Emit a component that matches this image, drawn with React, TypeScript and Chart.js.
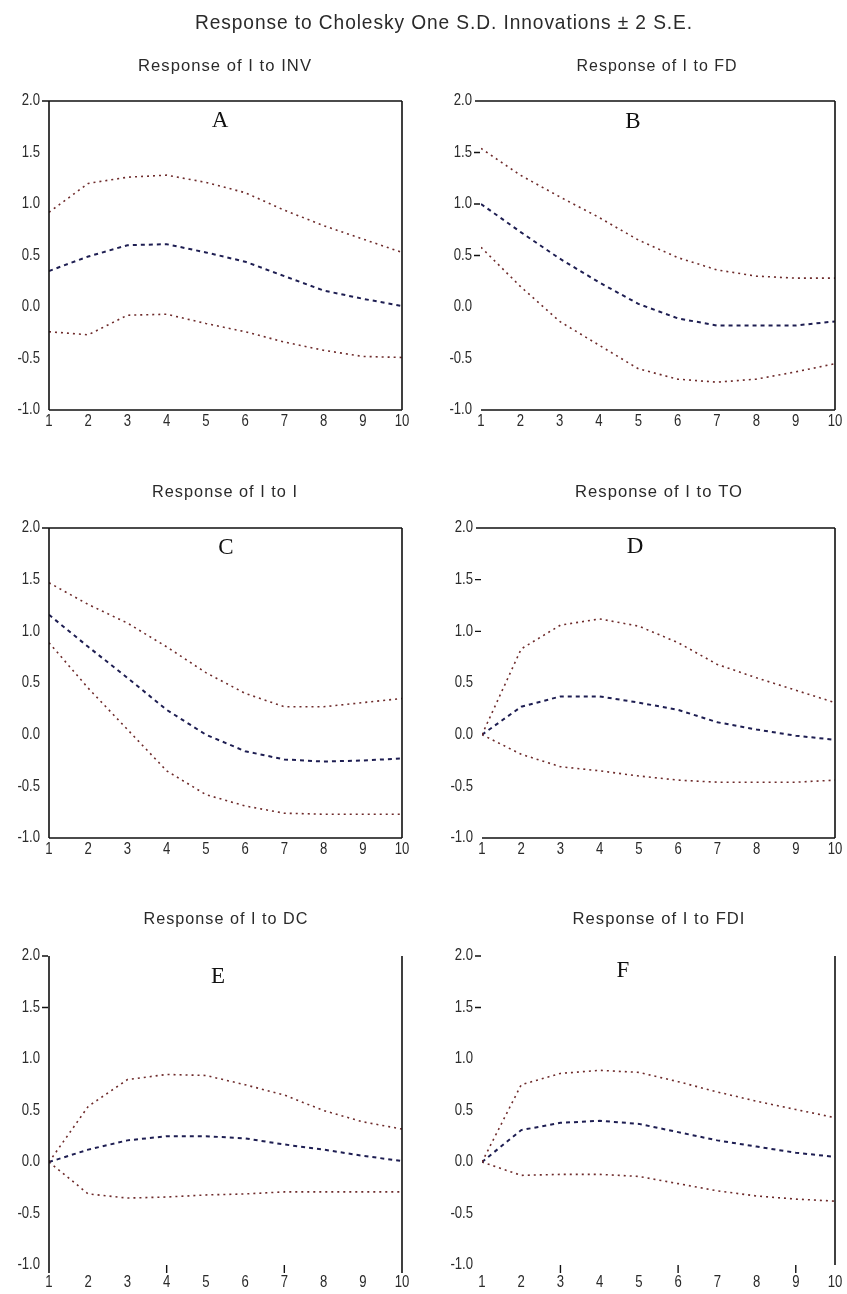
import React, { useEffect, useRef } from "react";
import { Chart, registerables } from "chart.js";

Chart.register(...registerables);

const PERIODS = [1, 2, 3, 4, 5, 6, 7, 8, 9, 10];
const Y_TICKS = [-1.0, -0.5, 0.0, 0.5, 1.0, 1.5, 2.0];
const MAIN_TITLE = "Response to Cholesky One S.D. Innovations \u00B1 2 S.E.";
const PANEL_TITLES = [
  "Response of I to INV",
  "Response of I to FD",
  "Response of I to I",
  "Response of I to TO",
  "Response of I to DC",
  "Response of I to FDI",
];
const PANEL_LETTERS = ["A", "B", "C", "D", "E", "F"];

const A_UPPER = [0.92, 1.2, 1.26, 1.28, 1.21, 1.11, 0.94, 0.79, 0.66, 0.53];
const A_RESP = [0.35, 0.49, 0.6, 0.61, 0.53, 0.44, 0.3, 0.16, 0.08, 0.01];
const A_LOWER = [-0.24, -0.27, -0.08, -0.07, -0.16, -0.24, -0.34, -0.42, -0.48, -0.49];

const B_UPPER = [1.54, 1.28, 1.07, 0.87, 0.65, 0.48, 0.36, 0.3, 0.28, 0.28];
const B_RESP = [1.0, 0.73, 0.47, 0.24, 0.03, -0.11, -0.18, -0.18, -0.18, -0.14];
const B_LOWER = [0.58, 0.2, -0.14, -0.37, -0.6, -0.7, -0.73, -0.7, -0.63, -0.55];

const C_UPPER = [1.47, 1.26, 1.08, 0.85, 0.6, 0.4, 0.27, 0.27, 0.31, 0.35];
const C_RESP = [1.16, 0.85, 0.55, 0.24, 0.0, -0.16, -0.24, -0.26, -0.25, -0.23];
const C_LOWER = [0.89, 0.45, 0.05, -0.35, -0.58, -0.69, -0.76, -0.77, -0.77, -0.77];

const D_UPPER = [0.0, 0.83, 1.06, 1.12, 1.05, 0.89, 0.68, 0.55, 0.43, 0.31];
const D_RESP = [0.0, 0.27, 0.37, 0.37, 0.31, 0.24, 0.12, 0.05, -0.01, -0.05];
const D_LOWER = [0.0, -0.19, -0.31, -0.35, -0.4, -0.44, -0.46, -0.46, -0.46, -0.44];

const E_UPPER = [0.0, 0.54, 0.8, 0.85, 0.84, 0.75, 0.65, 0.5, 0.39, 0.32];
const E_RESP = [0.0, 0.12, 0.21, 0.25, 0.25, 0.23, 0.17, 0.12, 0.06, 0.01];
const E_LOWER = [0.0, -0.31, -0.35, -0.34, -0.32, -0.31, -0.29, -0.29, -0.29, -0.29];

const F_UPPER = [0.0, 0.75, 0.86, 0.89, 0.87, 0.78, 0.68, 0.59, 0.51, 0.43];
const F_RESP = [0.0, 0.31, 0.38, 0.4, 0.37, 0.29, 0.21, 0.15, 0.09, 0.05];
const F_LOWER = [0.0, -0.13, -0.12, -0.12, -0.14, -0.21, -0.28, -0.33, -0.36, -0.38];

const SERIES = [
  [A_UPPER, A_RESP, A_LOWER],
  [B_UPPER, B_RESP, B_LOWER],
  [C_UPPER, C_RESP, C_LOWER],
  [D_UPPER, D_RESP, D_LOWER],
  [E_UPPER, E_RESP, E_LOWER],
  [F_UPPER, F_RESP, F_LOWER],
];

const W = 847;
const H = 1294;
const SANS = "'Liberation Sans', Arial, sans-serif";
const SERIF = "'Liberation Serif', 'DejaVu Serif', serif";
const BAND_COLOR = "#6e2b2b";
const RESP_COLOR = "#1e1e52";
const FRAME_COLOR = "#111";
const TEXT_COLOR = "#2a2a2a";

// layout per panel (page coordinates)
const LAYOUT = [
  { l: 49, r: 402, t: 101, b: 410, titleX: 225, titleY: 67, titleW: 174, letterX: 220, letterY: 121, xLabY: 422,
    frame: { left: [101, 410], right: [101, 410], top: [42, 402], bottom: [49, 402] }, yMarks: [], xMarks: [] },
  { l: 481, r: 835, t: 101, b: 410, titleX: 657, titleY: 67, titleW: 161, letterX: 633, letterY: 122, xLabY: 422,
    frame: { right: [101, 410], top: [475, 835], bottom: [481, 835] }, yMarks: [1.5, 1.0, 0.5], xMarks: [] },
  { l: 49, r: 402, t: 528, b: 838, titleX: 225, titleY: 493, titleW: 146, letterX: 226, letterY: 548, xLabY: 850,
    frame: { left: [528, 838], right: [528, 838], top: [42, 402], bottom: [49, 402] }, yMarks: [], xMarks: [] },
  { l: 482, r: 835, t: 528, b: 838, titleX: 659, titleY: 493, titleW: 168, letterX: 635, letterY: 547, xLabY: 850,
    frame: { right: [528, 838], top: [476, 835], bottom: [482, 835] }, yMarks: [1.5, 1.0], xMarks: [] },
  { l: 49, r: 402, t: 956, b: 1265, titleX: 226, titleY: 920, titleW: 165, letterX: 218, letterY: 977, xLabY: 1283,
    frame: { left: [956, 1273], right: [956, 1273] }, yMarks: [2.0, 1.5], xMarks: [4, 7] },
  { l: 482, r: 835, t: 956, b: 1265, titleX: 659, titleY: 920, titleW: 173, letterX: 623, letterY: 971, xLabY: 1283,
    frame: { right: [956, 1265] }, yMarks: [2.0, 1.5], xMarks: [3, 6, 9] },
];

function drawNarrow(ctx: any, text: string, x: number, y: number, size: number, align: string, opts: { sx?: number; width?: number; spacing?: number }) {
  ctx.save();
  ctx.font = `${size}px ${SANS}`;
  ctx.letterSpacing = `${opts.spacing || 0}px`;
  ctx.textBaseline = "middle";
  ctx.textAlign = "left";
  const natural = ctx.measureText(text).width;
  const sx = opts.width ? opts.width / natural : opts.sx || 1;
  const w = natural * sx;
  let x0 = x;
  if (align === "center") x0 = x - w / 2;
  else if (align === "right") x0 = x - w;
  ctx.translate(x0, y);
  ctx.scale(sx, 1);
  ctx.fillText(text, 0, 0);
  ctx.restore();
}

const decorPlugin = {
  id: "decor",
  afterDraw(chart: any, _args: any, opts: any) {
    const { ctx, scales } = chart;
    const L = opts.layout;
    ctx.save();
    ctx.strokeStyle = FRAME_COLOR;
    ctx.lineWidth = 1.6;
    ctx.setLineDash([]);
    const f = L.frame;
    ctx.beginPath();
    if (f.left) { ctx.moveTo(L.l, f.left[0]); ctx.lineTo(L.l, f.left[1]); }
    if (f.right) { ctx.moveTo(L.r, f.right[0]); ctx.lineTo(L.r, f.right[1]); }
    if (f.top) { ctx.moveTo(f.top[0], L.t); ctx.lineTo(f.top[1], L.t); }
    if (f.bottom) { ctx.moveTo(f.bottom[0], L.b); ctx.lineTo(f.bottom[1], L.b); }
    ctx.stroke();
    ctx.lineWidth = 1.4;
    ctx.beginPath();
    for (const v of L.yMarks) {
      const y = scales.y.getPixelForValue(v);
      ctx.moveTo(L.l - 7, y);
      ctx.lineTo(L.l - 1, y);
    }
    for (const v of L.xMarks) {
      const x = scales.x.getPixelForValue(v);
      ctx.moveTo(x, L.b);
      ctx.lineTo(x, L.b + 8);
    }
    ctx.stroke();

    ctx.fillStyle = TEXT_COLOR;
    // tick labels from the library's scales
    for (const t of scales.y.ticks) {
      const y = scales.y.getPixelForValue(t.value);
      drawNarrow(ctx, Number(t.value).toFixed(1), L.l - 9, y, 16, "right", { sx: 0.82 });
    }
    for (const t of scales.x.ticks) {
      const x = scales.x.getPixelForValue(t.value);
      drawNarrow(ctx, String(t.value), x, L.xLabY, 16, "center", { sx: 0.82 });
    }
    drawNarrow(ctx, opts.title, L.titleX, L.titleY, 16, "center", { width: L.titleW, spacing: 1 });
    if (opts.mainTitle) {
      drawNarrow(ctx, opts.mainTitle, 444, 23, 21, "center", { width: 498, spacing: 1 });
    }
    ctx.fillStyle = "#111";
    ctx.textAlign = "center";
    ctx.textBaseline = "middle";
    ctx.font = `23px ${SERIF}`;
    ctx.fillText(opts.letter, L.letterX, L.letterY);
    ctx.restore();
  },
};

function Panel({ idx }: { idx: number }) {
  const ref = useRef<HTMLCanvasElement | null>(null);
  useEffect(() => {
    const L = LAYOUT[idx];
    const [upper, resp, lower] = SERIES[idx];
    const YW = 40;
    const XH = 30;
    const mk = (vals: number[], color: string, dash: number[], width: number, label: string) => ({
      label,
      data: PERIODS.map((p, i) => ({ x: p, y: vals[i] })),
      borderColor: color,
      borderWidth: width,
      borderDash: dash,
      pointRadius: 0,
      tension: 0,
      fill: false,
    });
    const chart = new Chart(ref.current as HTMLCanvasElement, {
      type: "line",
      data: {
        datasets: [
          mk(upper, BAND_COLOR, [2, 4], 1.6, "+2 S.E."),
          mk(resp, RESP_COLOR, [4, 4], 2, "Response"),
          mk(lower, BAND_COLOR, [2, 4], 1.6, "-2 S.E."),
        ],
      },
      options: {
        animation: false,
        responsive: false,
        devicePixelRatio: 1,
        layout: {
          padding: { left: L.l - YW, right: W - L.r, top: L.t, bottom: H - L.b - XH },
        },
        plugins: {
          legend: { display: false },
          tooltip: { enabled: false },
          title: { display: false },
          decor: {
            layout: L,
            title: PANEL_TITLES[idx],
            letter: PANEL_LETTERS[idx],
            mainTitle: idx === 0 ? MAIN_TITLE : null,
          },
        } as any,
        scales: {
          x: {
            type: "linear",
            min: 1,
            max: 10,
            offset: false,
            afterFit: (s: any) => { s.height = XH; },
            grid: { display: false, drawTicks: false },
            border: { display: false },
            ticks: {
              stepSize: 1,
              color: "rgba(0,0,0,0)",
              font: { family: SANS, size: 14 },
              maxRotation: 0,
              autoSkip: false,
            },
          },
          y: {
            type: "linear",
            min: -1,
            max: 2,
            afterFit: (s: any) => { s.width = YW; },
            afterBuildTicks: (s: any) => { s.ticks = Y_TICKS.map((v) => ({ value: v })); },
            grid: { display: false, drawTicks: false },
            border: { display: false },
            ticks: {
              color: "rgba(0,0,0,0)",
              font: { family: SANS, size: 14 },
            },
          },
        },
      },
      plugins: [decorPlugin],
    } as any);
    return () => chart.destroy();
  }, [idx]);
  return (
    <canvas
      ref={ref}
      width={W}
      height={H}
      style={{ position: "absolute", left: 0, top: 0, width: W, height: H }}
    />
  );
}

export default function App() {
  return (
    <div style={{ position: "absolute", left: 0, top: 0, width: W, height: H, background: "#fff" }}>
      {[0, 1, 2, 3, 4, 5].map((i) => (
        <Panel key={i} idx={i} />
      ))}
    </div>
  );
}
